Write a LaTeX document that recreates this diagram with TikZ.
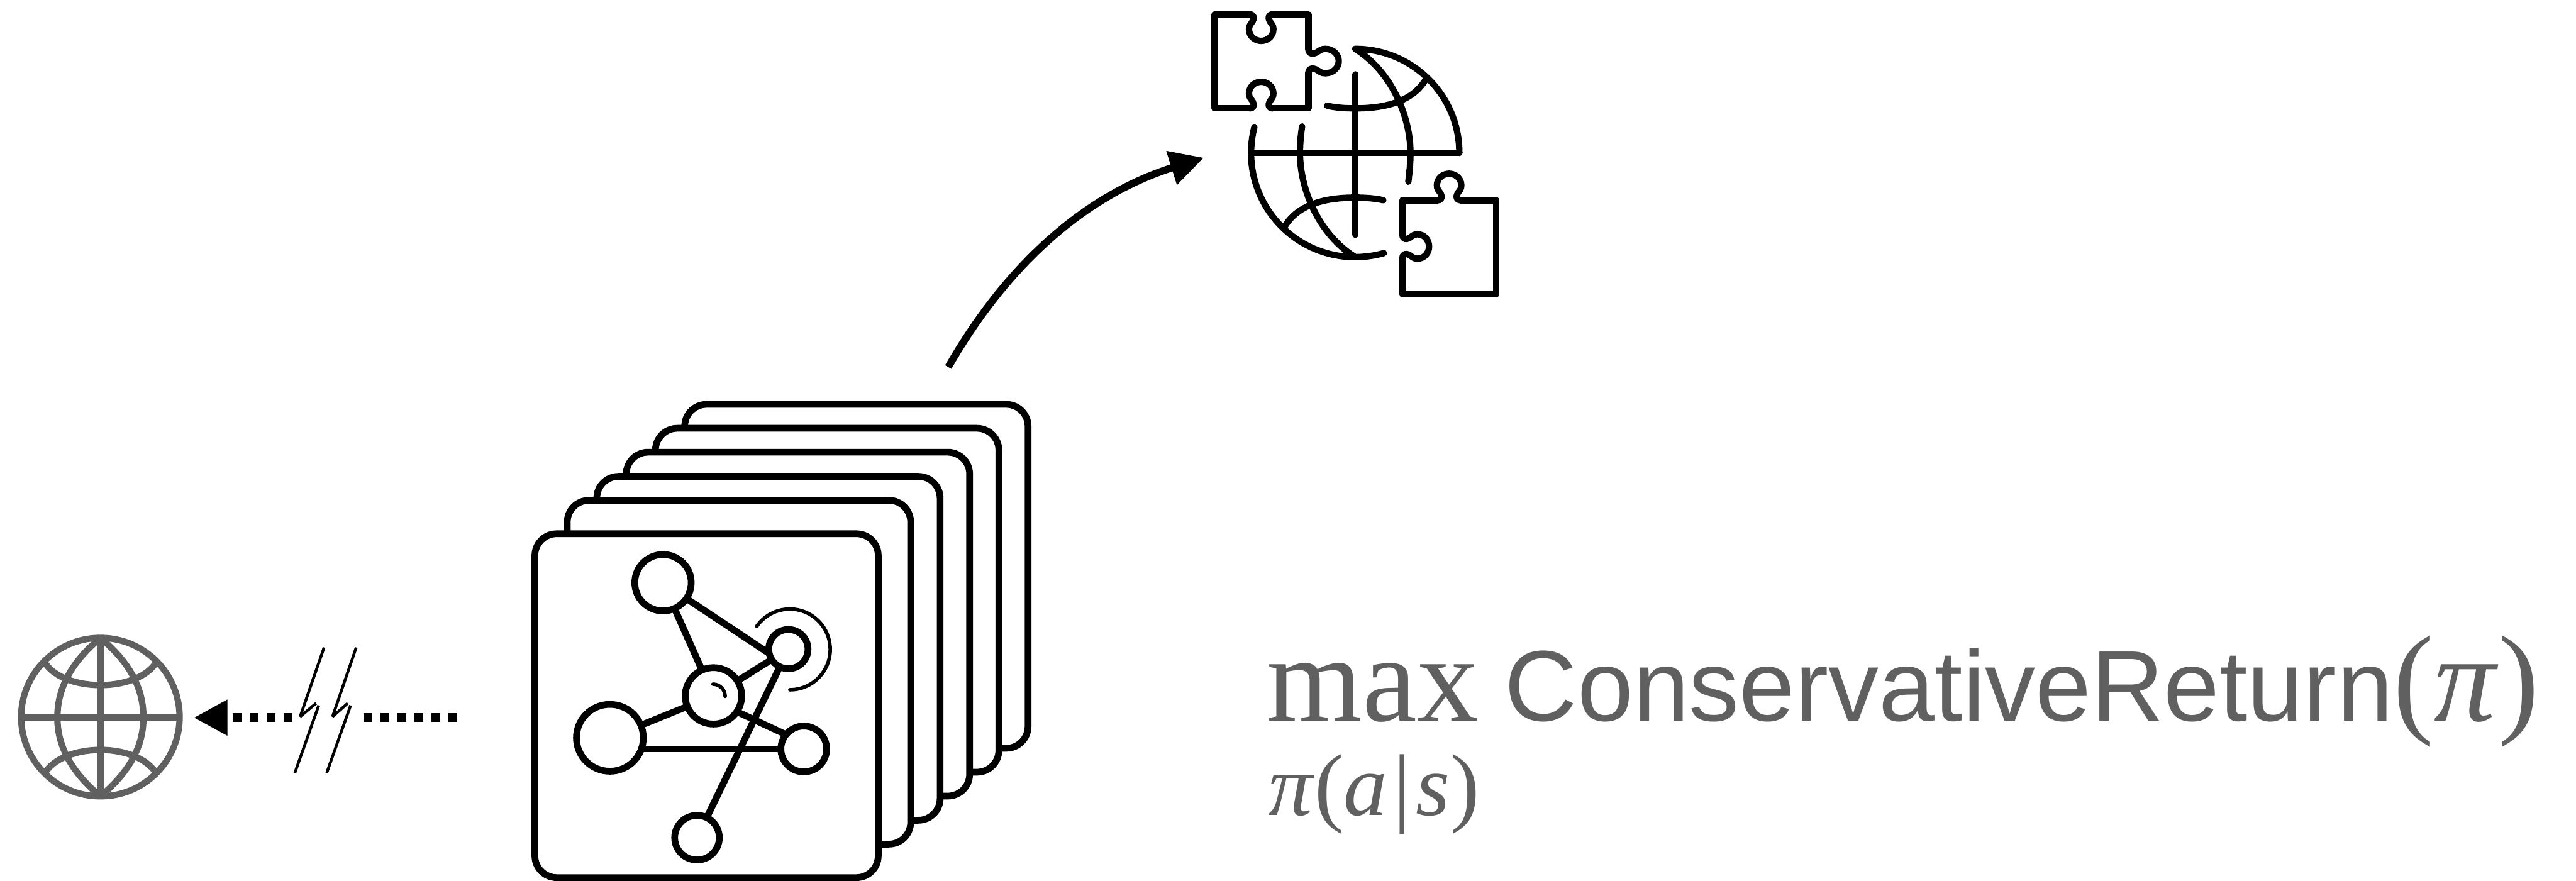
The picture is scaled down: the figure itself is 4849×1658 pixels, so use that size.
\documentclass[tikz,border=0pt]{standalone}
\usepackage{fontspec}
\setmainfont{Liberation Serif}
\newfontfamily\hvsans{Liberation Sans}
\usetikzlibrary{arrows.meta}
\definecolor{icongray}{HTML}{606060}
\tikzset{
  ink/.style={line width=3.41pt,line cap=round,line join=round},
  card/.style={draw,fill=white,line width=3.6pt,rectangle,rounded corners=11.7pt,inner sep=0pt,outer sep=0pt,minimum width=183.8pt,minimum height=184.1pt},
  gnode/.style={draw,circle,line width=3.6pt,inner sep=0pt,outer sep=0pt,fill=white},
  gedge/.style={line width=3.6pt},
  thinarc/.style={line cap=round,line width=1.9pt},
  bolt/.style={line width=1.5pt,line join=bevel},
  dotline/.style={line width=4.75pt,dash pattern=on 4.65pt off 4.45pt},
  ahead/.style={-{Triangle[length=18.1pt,width=18pt]}},
  graytext/.style={text=icongray,inner sep=0pt,outer sep=0pt},
  ptab/.pic={
    \draw[ink] (-22,0) .. controls (-14,0) and (-12,6) .. (-16,13)
      .. controls (-20,19) and (-23,21) .. (-23,28)
      .. controls (-23,41) and (-12,50) .. (0,50)
      .. controls (12,50) and (23,41) .. (23,28)
      .. controls (23,21) and (20,19) .. (16,13)
      .. controls (12,6) and (14,0) .. (22,0);
  }
}
\begin{document}
\begin{tikzpicture}[x=0.01cm,y=-0.01cm]
\fill[white] (0,0) rectangle (4849,1658);
\useasboundingbox (0,0) rectangle (4849,1658);

% stacked cards
\node[card] (c6) at (1612,1085) {};
\node[card] (c5) at (1557,1130) {};
\node[card] (c4) at (1502,1175) {};
\node[card] (c3) at (1446.5,1220.5) {};
\node[card] (c2) at (1391,1265.5) {};
\node[card] (c1) at (1330,1328.5) {};

% graph on the front card
\node[gnode,minimum size=30.2pt] (na) at (1248,1097) {};
\node[gnode,minimum size=35.8pt] (nb) at (1148,1389) {};
\node[gnode,minimum size=30.2pt] (nc) at (1343,1310) {};
\node[gnode,minimum size=21pt] (nd) at (1484,1222) {};
\node[gnode,minimum size=24.5pt] (ne) at (1513,1410) {};
\node[gnode,minimum size=23.9pt] (nf) at (1312,1577) {};
\draw[gedge] (na.-34) -- (nd.193);
\draw[gedge] (na) -- (nc);
\draw[gedge] (nc) -- (nd);
\draw[gedge] (nb) -- (nc);
\draw[gedge] (ne.west) -- (ne.west -| nb.east);
\draw[gedge] (nc.-34) -- (ne.141);
\draw[gedge] (nd) -- (nf);
\draw[thinarc] (1424.5,1179) arc[start angle=215,end angle=450,radius=76];
\draw[thinarc] (1342,1288) arc[start angle=270,end angle=360,radius=23];

% curved arrow
\coordinate (arrowtail) at (1785,691);
\coordinate (arrowtip) at (2266,297);
\draw[line width=3.9pt,ahead] (arrowtail) .. controls (1900,490) and (2050,365) .. (arrowtip);

% puzzle globe
\draw[ink] (2551,140) -- (2551,442);
\draw[ink] (2355,288) -- (2747,288);
\draw[ink] (2551,92) arc[start angle=270,end angle=360,radius=196];
\draw[ink] ([shift={(2551,288)}]194.5:196) arc[start angle=194.5,end angle=74,radius=196];
\draw[ink] (2551,92) .. controls (2620,135) and (2655,220) .. (2655,288) .. controls (2655,308) and (2653,325) .. (2651,342);
\draw[ink] (2551,484) .. controls (2482,441) and (2447,356) .. (2447,288) .. controls (2447,268) and (2449,251) .. (2451,238);
\draw[ink] (2498,199) .. controls (2515,203) and (2535,204) .. (2551,204) .. controls (2610,204) and (2660,190) .. (2684,149);
\draw[ink] (2604,377) .. controls (2587,373) and (2567,372) .. (2551,372) .. controls (2492,372) and (2442,386) .. (2418,427);

% puzzle piece, top left
\draw[ink] (2352,27) -- (2286,27) -- (2286,204) -- (2352,204);
\draw[ink] (2396,27) -- (2463,27) -- (2463,93);
\draw[ink] (2463,137) -- (2463,204) -- (2397,204);
\pic at (2374,27) {ptab};
\pic[rotate=90,yscale=1.14] at (2463,115) {ptab};
\pic[rotate=180] at (2374,204) {ptab};

% puzzle piece, bottom right
\draw[ink] (2705.7,377) -- (2640,377) -- (2640,442);
\draw[ink] (2640,486) -- (2640,554) -- (2816,554) -- (2816,377) -- (2749.7,377);
\pic[rotate=180] at (2727.7,377) {ptab};
\pic[rotate=90] at (2640,464) {ptab};

% grey globe
\node[draw=icongray,circle,line width=3.41pt,inner sep=0pt,outer sep=0pt,minimum size=84.8pt] (web) at (189,1350) {};
\begin{scope}[draw=icongray,line width=3.41pt]
\draw (40,1351) -- (338,1351);
\draw (189,1201) -- (189,1499);
\draw (189,1201) .. controls (130,1250) and (108,1300) .. (108,1351) .. controls (108,1400) and (130,1450) .. (189,1499);
\draw (189,1201) .. controls (248,1250) and (270,1300) .. (270,1351) .. controls (270,1400) and (248,1450) .. (189,1499);
\draw (84,1247) .. controls (120,1304) and (258,1304) .. (294,1247);
\draw (84,1456) .. controls (120,1397) and (258,1397) .. (294,1456);
\end{scope}

% dotted link
\coordinate (linkR) at (861,1351);
\coordinate (linkRb) at (684,1351);
\coordinate (linkLb) at (550,1351);
\coordinate (linktip) at (364.5,1351);
\draw[dotline] (linkR) -- (linkRb);
\draw[dotline,ahead] (linkLb) -- (linktip);
\draw[bolt] (610,1219) -- (565,1349) -- (595,1324);
\draw[bolt] (600,1328) -- (555,1455);
\draw[bolt] (670.5,1219) -- (626,1349) -- (654.5,1324);
\draw[bolt] (660,1328) -- (615,1455);

% formula
\node[graytext,anchor=base west] (objective) at (2385,1357)
  {\fontsize{65.8pt}{70pt}\selectfont max\hspace{14pt}{\hvsans\fontsize{53.8pt}{60pt}\selectfont ConservativeReturn}(\textit{π})};
\node[graytext,anchor=base west] (policy) at (2388,1535)
  {\fontsize{46.9pt}{50pt}\selectfont\textit{π}(\textit{a}\hspace{3pt}|\hspace{3pt}\textit{s})};
\end{tikzpicture}
\end{document}
